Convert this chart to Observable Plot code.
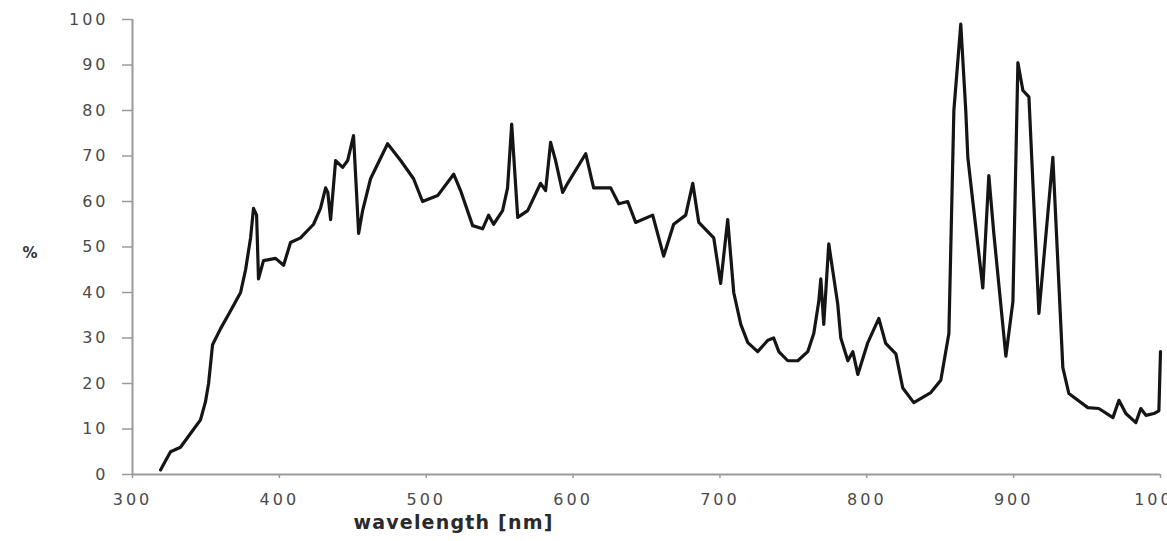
<!DOCTYPE html>
<html>
<head>
<meta charset="utf-8">
<script src="https://cdn.jsdelivr.net/npm/d3@7"></script>
<script src="https://cdn.jsdelivr.net/npm/@observablehq/plot@0.6"></script>
<style>
  html, body { margin: 0; padding: 0; background: #fff; overflow: hidden; }
  #chart svg { overflow: hidden; }
  #chart g[aria-label="x-axis tick label"] text,
  #chart g[aria-label="y-axis tick label"] text { letter-spacing: 3px; }
  #chart .xlabel text { letter-spacing: 1.2px; }
</style>
</head>
<body>
<div id="chart"></div>
<script>
const wavelength = [
  319.1, 322.5, 325.9, 332.7, 339.5, 346.3, 349.7, 351.8, 354.5, 359.9,
  366.8, 373.6, 377.0, 380.4, 382.4, 384.5, 385.8, 389.2, 397.4, 402.9,
  407.6, 414.4, 423.3, 428.0, 431.5, 433.0, 434.9, 438.3, 443.1, 446.5,
  450.5, 454.0, 456.7, 462.1, 473.7, 482.6, 491.4, 497.5, 507.8, 518.7,
  523.4, 531.6, 538.4, 542.5, 545.9, 552.0, 555.4, 558.2, 562.3, 569.1,
  577.9, 581.3, 584.7, 588.1, 592.9, 596.3, 608.6, 614.0, 625.6, 631.1,
  637.2, 642.6, 654.2, 661.7, 668.5, 676.7, 681.5, 685.6, 695.8, 700.5,
  705.3, 709.4, 714.2, 719.0, 725.7, 732.6, 736.6, 740.1, 746.2, 753.0,
  759.8, 763.9, 767.3, 768.7, 770.7, 774.1, 780.2, 782.3, 787.1, 790.5,
  793.9, 800.7, 808.2, 812.9, 819.8, 824.5, 832.0, 843.6, 850.4, 855.9,
  859.3, 864.0, 867.4, 868.8, 872.2, 879.0, 883.1, 886.5, 894.7, 899.5,
  902.9, 906.3, 910.4, 917.2, 926.7, 933.5, 937.6, 950.5, 958.0, 967.6,
  971.7, 976.4, 983.2, 986.6, 990.1, 995.5, 998.9, 1000
];
const percent = [
  1, 3, 5, 6, 9, 12, 16, 20, 28.5, 32,
  36, 40, 45, 52, 58.5, 57, 43, 47, 47.5, 46,
  51, 52, 55, 58.5, 63, 62, 56, 69, 67.5, 69,
  74.5, 53, 58, 65, 72.7, 69, 65, 60, 61.3, 66,
  62.4, 54.7, 54, 57, 55, 58, 63, 77, 56.5, 58,
  64, 62.4, 73, 69, 62, 64, 70.5, 63, 63, 59.5,
  60, 55.4, 57, 48, 55, 57, 64, 55.4, 52, 42,
  56, 40, 33, 29, 27, 29.5, 30, 27, 25, 25,
  27, 31, 38, 43, 33, 50.7, 37.5, 30, 25, 27,
  22, 29, 34.3, 28.8, 26.5, 19, 15.8, 18, 20.7, 31,
  80, 99, 80, 69.7, 60, 41, 65.7, 53, 26, 38,
  90.5, 84.4, 83, 35.4, 69.7, 23.5, 17.8, 14.7, 14.5, 12.5,
  16.3, 13.4, 11.4, 14.5, 13, 13.4, 14, 27
];
const xTicks = [300, 400, 500, 600, 700, 800, 900, 1000];
const yTicks = [0, 10, 20, 30, 40, 50, 60, 70, 80, 90, 100];
const xLabel = "wavelength [nm]";
const yLabel = "%";

const data = wavelength.map((w, i) => ({w, p: percent[i]}));

const chart = Plot.plot({
  width: 1167,
  height: 541,
  marginTop: 19,
  marginLeft: 132,
  marginRight: 7,
  marginBottom: 67,
  style: {fontFamily: "DejaVu Sans, Verdana, sans-serif", background: "#fff", overflow: "hidden"},
  x: {domain: [300, 1000]},
  y: {domain: [0, 100]},
  marks: [
    Plot.axisY({ticks: yTicks, tickFormat: d => String(d), tickSize: 10, tickPadding: 14, label: null,
      fontSize: 16, fill: "#4a4a4a", stroke: "#9a9a9a", strokeWidth: 1.5}),
    Plot.axisX({ticks: xTicks, tickFormat: d => String(d), tickSize: 4, tickPadding: 15, label: null,
      fontSize: 16, fill: "#4a4a4a", stroke: "#9a9a9a", strokeWidth: 1.5}),
    Plot.ruleX([300], {stroke: "#9a9a9a", strokeWidth: 2}),
    Plot.ruleY([0], {stroke: "#9a9a9a", strokeWidth: 2}),
    Plot.line(data, {x: "w", y: "p", stroke: "#151515", strokeWidth: 3.2, strokeLinejoin: "round"}),
    Plot.text([xLabel], {text: d => d, frameAnchor: "bottom", dx: -193, dy: 54, className: "xlabel",
      fontSize: 19, fontWeight: "bold", fill: "#2a2a2a"}),
    Plot.text([yLabel], {text: d => d, frameAnchor: "left", dx: -110, dy: 6,
      fontSize: 15, fontWeight: "bold", fill: "#333"})
  ]
});
document.getElementById("chart").appendChild(chart);
</script>
</body>
</html>
